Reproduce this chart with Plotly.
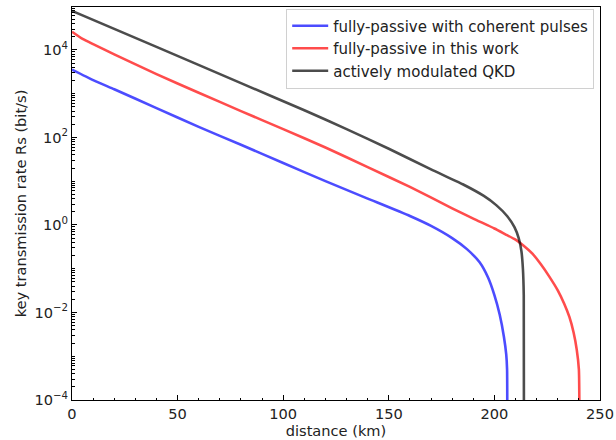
import plotly.graph_objects as go

# ---- data ----
dist_coherent = [0, 10, 20, 40, 60, 80, 100, 120, 140, 160, 170, 180, 187, 193, 197, 200, 202.5, 204.5, 205.6, 206, 206.1]
rate_coherent = [3.55e3, 2.04e3, 1.26e3, 468, 174, 68, 26, 10, 4.0, 1.6, 0.95, 0.50, 0.28, 0.14, 0.063, 0.025, 0.009, 0.0028, 0.0011, 5e-4, 1e-5]

dist_this = [0, 5, 10, 20, 40, 60, 80, 100, 120, 140, 160, 180, 190, 200, 205, 210, 214, 218, 222, 226, 230, 233, 235.5, 237.5, 239, 240, 240.3]
rate_this = [2.6e4, 1.78e4, 1.35e4, 7.9e3, 2.8e3, 1.05e3, 400, 155, 59, 21, 7.4, 2.4, 1.4, 0.83, 0.62, 0.46, 0.33, 0.22, 0.126, 0.066, 0.032, 0.016, 0.0079, 0.0035, 0.0014, 5e-4, 1e-5]

dist_active = [0, 40, 80, 110, 130, 150, 170, 185, 195, 201, 206, 209.5, 211.5, 212.8, 213.5, 213.9, 214]
rate_active = [7.8e4, 1.17e4, 1.74e3, 417, 155, 55, 18.6, 8.5, 4.6, 2.8, 1.6, 0.89, 0.5, 0.25, 0.1, 0.025, 1e-5]

names = ["fully-passive with coherent pulses", "fully-passive in this work", "actively modulated QKD"]
colors = ["rgba(0,0,255,0.7)", "rgba(255,0,0,0.7)", "rgba(0,0,0,0.7)"]

x_ticks = [0, 50, 100, 150, 200, 250]
y_ticks = [1e-4, 1e-2, 1, 1e2, 1e4]
y_ticktext = ["10<sup>−4</sup>", "10<sup>−2</sup>", "10<sup>0</sup>", "10<sup>2</sup>", "10<sup>4</sup>"]

FONT = "DejaVu Sans"
FS = 14.6

fig = go.Figure()
for i, (xs, ys, n, c) in enumerate(zip([dist_coherent, dist_this, dist_active],
                                       [rate_coherent, rate_this, rate_active], names, colors)):
    fig.add_trace(go.Scatter(x=xs, y=ys, mode="lines", name=n, legendgroup=f"g{i}",
                             line=dict(color=c, width=2.6, shape="spline", smoothing=0.5)))

minor_y = [k * 10.0 ** e for e in range(-4, 5) for k in range(1, 10)
           if not (k == 1 and e % 2 == 0)]

fig.update_layout(
    width=616, height=440,
    margin=dict(l=72, r=16, t=7, b=40),
    paper_bgcolor="white", plot_bgcolor="white",
    font=dict(family=FONT, size=FS, color="#222222"),
    showlegend=True,
    legend=dict(x=0.989, y=0.996, xanchor="right", yanchor="top",
                bgcolor="rgba(255,255,255,0.85)", bordercolor="#d0d0d0", borderwidth=1,
                font=dict(family=FONT, size=15, color="#222222"),
                itemwidth=36, tracegroupgap=4, traceorder="normal"),
)
fig.update_xaxes(
    range=[0, 250], tickvals=x_ticks, ticks="inside", ticklen=5, tickwidth=1,
    tickcolor="black", showline=True, linecolor="black", linewidth=1, mirror=True,
    showgrid=False, zeroline=False, automargin=False,
    minor=dict(ticks="inside", ticklen=2.5, tickwidth=1, tickcolor="black", dtick=10, showgrid=False),
    title=dict(text="distance (km)", font=dict(family=FONT, size=FS), standoff=0),
    tickfont=dict(family=FONT, size=FS),
)
fig.update_yaxes(
    type="log", range=[-4, 4.98], tickvals=y_ticks, ticktext=y_ticktext,
    ticks="inside", ticklen=5, tickwidth=1, tickcolor="black",
    showline=True, linecolor="black", linewidth=1, mirror=True,
    showgrid=False, zeroline=False, automargin=False,
    minor=dict(ticks="inside", ticklen=2.5, tickwidth=1, tickcolor="black", tickvals=minor_y, showgrid=False),
    title=dict(text="key transmission rate Rs (bit/s)", font=dict(family=FONT, size=FS), standoff=4),
    tickfont=dict(family=FONT, size=FS),
)

fig.write_html("out.html", config={"displayModeBar": False},
               post_script="document.body.style.margin='0px';document.body.style.padding='0px';")
